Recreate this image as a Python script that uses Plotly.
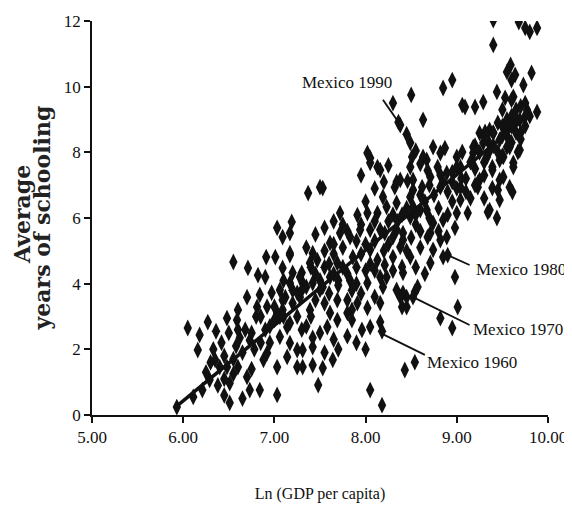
import plotly.graph_objects as go

# Ln(GDP per capita) and average years of schooling
ln_gdp = [
    5.93, 6.05, 6.18, 6.27, 6.16, 6.48, 6.59, 6.55, 6.71, 6.91, 7.17, 6.82, 6.90, 6.70, 6.81, 6.84,
    6.97, 7.12, 6.62, 6.73, 6.35, 6.40, 6.29, 6.51, 6.48, 6.60, 6.70, 6.51, 6.84, 7.03, 6.73, 6.21,
    6.11, 6.92, 7.03, 6.88, 7.06, 7.14, 7.03, 7.25, 7.25, 7.17, 7.20, 7.01, 7.09, 6.25, 6.33, 6.42,
    6.45, 6.55, 6.58, 6.38, 6.45, 6.55, 6.65, 6.68, 6.78, 6.75, 6.90, 6.95, 7.00, 6.36, 6.80, 6.60,
    6.92, 6.65,
    7.37, 7.50, 7.53, 7.03, 7.19, 7.17, 7.09, 7.17, 7.42, 7.39, 7.30, 7.31, 8.05, 8.16, 8.19, 8.32,
    8.34, 8.52, 7.72, 7.91, 8.02, 8.13, 7.61, 7.72, 7.83, 7.94, 8.05, 8.21, 8.34, 8.41, 8.49, 7.47,
    7.69, 7.86, 8.05, 8.13, 8.30, 8.40, 8.16, 8.19, 8.02, 7.83, 7.61, 7.06, 7.28, 7.50, 7.69, 7.91,
    8.16, 8.41, 8.40, 7.39, 7.09, 7.61, 7.80, 8.05, 8.18, 7.48, 7.31, 7.64, 7.53, 7.42, 7.42, 7.42,
    7.58, 7.69, 7.85, 7.96, 8.05, 8.16, 8.02, 7.85, 7.80, 7.53, 7.42, 7.28, 7.25, 7.09, 7.06, 7.17,
    7.17, 7.31, 7.14, 8.41, 8.34, 8.45, 8.54, 8.43, 8.54, 8.23, 7.45, 7.55, 7.65, 7.75, 7.35, 7.55,
    7.65, 7.75, 7.90, 7.95, 7.45, 7.55, 7.65, 7.75, 7.90, 7.35, 7.45, 7.60, 7.70, 7.95, 8.10, 7.25,
    7.35, 7.50, 7.65, 7.80, 7.90, 8.00, 7.55, 7.70, 8.18, 8.00, 8.10, 7.95, 8.20, 8.25, 8.10, 8.25,
    8.40, 8.55, 8.60, 8.55, 8.65, 8.60, 8.70, 8.90, 9.10, 9.20, 9.30, 9.00, 8.80, 8.95, 9.15, 9.30,
    9.50, 9.60, 9.70,
    8.51, 8.67, 8.82, 9.00, 9.18, 9.33, 9.47, 9.62, 8.34, 8.46, 8.62, 8.82, 8.95, 9.23, 9.39, 9.51,
    9.39, 9.61, 9.47, 9.34, 9.44, 9.12, 9.04, 8.49, 8.60, 8.74, 8.85, 8.98, 8.68, 8.82, 8.74, 8.41,
    8.38, 8.49, 8.71, 8.85, 8.98, 8.57, 8.45, 8.38, 9.01, 8.95, 8.82, 8.23, 8.52, 8.67, 9.00, 9.36,
    8.16, 8.30, 8.71, 8.89, 8.21, 8.52, 8.90, 8.36,
    9.40, 9.40, 9.68, 9.75, 9.88, 9.80, 9.59, 9.82, 9.73, 9.64, 9.55, 9.60, 8.50, 8.95, 8.85, 8.63,
    9.06, 9.09, 9.20, 9.29, 9.44, 9.53, 9.62, 9.77, 9.88, 9.69, 9.36, 9.25, 9.55, 9.67, 9.23, 9.45,
    8.74, 8.87, 9.06, 8.38, 8.49, 8.63, 8.52, 9.00, 9.30, 9.40, 9.50, 9.55, 9.60, 9.45, 9.35, 9.20,
    9.65, 9.70, 9.75, 9.50, 9.60, 9.65, 9.55, 9.70, 9.80, 8.30, 9.18, 9.29, 9.31, 9.40, 9.51, 9.62,
    9.47, 9.58, 9.69, 9.51, 9.39, 9.62, 9.25, 9.47, 9.58, 8.02, 8.05, 8.13, 8.49, 8.38, 8.79, 8.89,
    9.04, 8.71, 8.82, 9.04,
    6.30, 6.45, 6.50, 6.60, 6.75, 6.85, 6.85, 6.95, 7.00, 7.10, 7.10, 7.20, 7.20, 7.30, 7.30, 7.40,
    7.40, 7.50, 7.55, 7.60, 7.65, 7.70, 7.80, 7.80, 7.85, 7.90, 7.95, 8.00, 8.00, 8.05, 8.10, 8.10,
    8.20, 8.25, 8.30, 8.30, 8.35, 8.45, 8.45, 8.50, 8.55, 8.60, 8.65, 8.70, 8.75, 8.80, 8.85, 8.90,
    8.95, 9.05, 9.10, 9.15, 9.20, 9.25, 9.30, 9.35, 9.40, 9.45, 9.50, 9.55, 9.60, 9.65, 9.75, 9.75,
    8.45, 8.55, 8.60, 8.68,
]
schooling = [
    0.24, 2.65, 2.44, 2.83, 1.98, 2.95, 2.89, 4.66, 4.48, 4.81, 4.87, 4.26, 4.20, 3.59, 3.29, 3.66,
    3.72, 3.59, 2.35, 2.28, 1.68, 1.46, 1.07, 0.97, 1.46, 1.46, 1.16, 0.37, 0.76, 0.61, 0.76, 0.76,
    0.55, 1.89, 1.46, 1.68, 2.38, 2.68, 3.11, 1.98, 1.46, 4.02, 4.33, 4.81, 4.48, 1.30, 2.00, 2.20,
    1.80, 1.70, 2.10, 0.90, 0.60, 1.25, 1.90, 2.60, 2.00, 1.40, 2.60, 2.20, 2.90, 2.55, 3.00, 3.20,
    3.30, 0.50,
    6.76, 6.94, 6.91, 5.70, 5.88, 5.54, 5.42, 4.93, 4.93, 4.63, 4.33, 4.02, 7.83, 7.46, 6.64, 6.94,
    6.46, 6.85, 6.15, 6.09, 6.15, 6.15, 5.24, 5.54, 5.42, 5.64, 5.64, 5.54, 5.64, 5.33, 6.03, 4.72,
    4.63, 4.81, 5.03, 4.72, 4.81, 4.51, 4.20, 3.90, 4.02, 4.10, 4.20, 3.81, 3.59, 3.81, 3.50, 3.41,
    3.41, 3.72, 3.29, 3.20, 3.20, 3.11, 3.11, 0.76, 0.30, 0.91, 1.46, 1.68, 1.43, 1.52, 2.07, 2.35,
    2.68, 2.89, 2.89, 2.59, 2.68, 2.83, 3.26, 3.20, 3.50, 3.90, 4.02, 4.20, 3.72, 3.50, 2.99, 2.80,
    2.19, 1.98, 1.77, 4.33, 3.81, 3.29, 3.75, 1.37, 1.61, 4.20, 5.50, 5.70, 5.90, 5.80, 5.10, 5.00,
    4.90, 5.10, 5.30, 4.90, 4.30, 4.50, 4.30, 4.50, 4.50, 3.90, 3.50, 3.70, 3.95, 3.70, 3.60, 3.00,
    2.70, 2.50, 2.30, 2.40, 2.20, 2.00, 1.90, 2.00, 2.55, 6.50, 6.90, 7.30, 7.10, 7.60, 5.90, 5.90,
    6.10, 5.80, 5.10, 4.50, 4.30, 6.70, 7.00, 6.80, 7.20, 7.50, 7.70, 6.90, 6.30, 6.50, 6.60, 6.60,
    7.90, 8.30, 8.40,
    7.86, 7.77, 7.98, 7.86, 7.98, 7.86, 7.77, 7.68, 7.10, 7.13, 6.94, 7.31, 7.10, 6.94, 7.46, 7.25,
    6.91, 6.79, 6.55, 6.18, 6.00, 6.15, 6.55, 6.64, 6.24, 5.85, 5.94, 5.70, 5.42, 5.33, 5.03, 5.54,
    5.12, 4.81, 4.63, 4.81, 4.20, 3.90, 3.59, 3.59, 3.29, 2.65, 2.95, 6.34, 6.34, 6.24, 6.15, 6.24,
    5.64, 5.42, 5.54, 5.42, 4.57, 3.59, 4.87, 8.92,
    12.03, 11.27, 11.97, 11.79, 11.79, 11.67, 10.66, 10.42, 10.05, 10.36, 10.45, 10.20, 9.75, 10.20, 9.96, 8.99,
    9.44, 9.38, 9.38, 9.53, 9.84, 9.66, 9.69, 9.29, 9.23, 8.99, 8.68, 8.59, 8.16, 8.01, 7.07, 6.85,
    8.16, 8.13, 8.01, 8.83, 8.29, 7.86, 7.16, 7.55, 8.50, 8.60, 8.80, 9.00, 9.10, 8.90, 8.30, 8.20,
    9.30, 9.40, 9.50, 9.30, 9.60, 9.00, 8.50, 8.60, 9.10, 9.50, 8.16, 8.29, 8.62, 8.59, 8.77, 8.89,
    8.38, 8.16, 8.07, 7.86, 7.55, 7.55, 7.16, 7.16, 6.94, 7.98, 7.68, 7.55, 7.55, 7.16, 7.55, 7.37,
    7.55, 7.25, 6.94, 6.94,
    1.60, 1.10, 2.50, 2.60, 2.50, 2.20, 3.00, 2.70, 3.30, 3.00, 4.10, 3.40, 3.80, 3.80, 2.60, 3.00,
    4.50, 4.10, 3.40, 4.60, 5.20, 4.10, 4.30, 5.60, 3.80, 4.00, 5.80, 4.40, 5.20, 4.60, 5.30, 4.40,
    5.00, 5.20, 6.10, 4.40, 5.90, 6.30, 5.00, 5.40, 6.10, 5.60, 6.50, 6.00, 6.70, 5.60, 7.10, 6.10,
    7.40, 7.20, 6.80, 7.70, 7.00, 8.00, 7.30, 8.00, 8.20, 8.00, 8.50, 8.70, 8.80, 8.60, 9.10, 8.80,
    8.55, 8.05, 7.65, 7.45,
]

# Fitted line end points
fit_x = [5.92, 9.82]
fit_y = [0.25, 9.20]

# Labels and leader lines
label_text = ["Mexico 1990", "Mexico 1980", "Mexico 1970", "Mexico 1960"]
label_x = [8.31, 9.22, 9.19, 8.68]
label_y = [10.14, 4.42, 2.59, 1.61]
label_anchor = ["right", "left", "left", "left"]
tail_x = [8.19, 9.14, 9.14, 8.65]
tail_y = [9.60, 4.57, 2.74, 1.83]
tip_x = [8.36, 8.90, 8.52, 8.16]
tip_y = [8.92, 4.87, 3.59, 2.50]

x_ticks = [5, 6, 7, 8, 9, 10]
y_ticks = [0, 2, 4, 6, 8, 10, 12]

SERIF = "Liberation Serif"

fig = go.Figure()
fig.add_trace(go.Scatter(
    x=ln_gdp, y=schooling, mode="markers",
    marker=dict(symbol="diamond-tall", size=12, color="#111111", line=dict(width=0)),
    showlegend=False, hoverinfo="x+y",
))
fig.add_trace(go.Scatter(
    x=fit_x, y=fit_y, mode="lines",
    line=dict(color="#111111", width=3.5), showlegend=False,
))

shapes = []
annotations = []
for t, lx, ly, anc, x0, y0, x1, y1 in zip(label_text, label_x, label_y, label_anchor,
                                          tail_x, tail_y, tip_x, tip_y):
    shapes.append(dict(type="line", xref="x", yref="y", x0=x0, y0=y0, x1=x1, y1=y1,
                       line=dict(color="#111111", width=1.8)))
    annotations.append(dict(x=lx, y=ly, xref="x", yref="y", text=t, showarrow=False,
                            xanchor=anc, yanchor="middle", xshift=-3 if anc == "left" else 0,
                            font=dict(family=SERIF, size=17, color="#111111")))

# Y axis title, two rotated lines
annotations.append(dict(x=-0.1535, y=0.5076, xref="paper", yref="paper", text="Average",
                        showarrow=False, textangle=-90, xanchor="center", yanchor="middle",
                        font=dict(family="DejaVu Serif", size=22, color="#222222", weight="bold")))
annotations.append(dict(x=-0.1096, y=0.4990, xref="paper", yref="paper", text="years of schooling",
                        showarrow=False, textangle=-90, xanchor="center", yanchor="middle",
                        font=dict(family="DejaVu Serif", size=22, color="#222222", weight="bold")))

# The page body adds an 8px offset, so the figure is 8px smaller and margins compensate
fig.update_layout(
    width=564, height=511,
    margin=dict(l=84, r=24, t=13, b=104, autoexpand=False),
    paper_bgcolor="white", plot_bgcolor="white",
    font=dict(family=SERIF, size=17, color="#111111"),
    shapes=shapes, annotations=annotations,
    xaxis=dict(
        range=[5, 10], tickvals=x_ticks, tickformat=".2f", automargin=False,
        showline=True, linecolor="#111111", linewidth=1.5,
        ticks="outside", ticklen=6, tickcolor="#111111", tickwidth=1.5,
        showgrid=False, zeroline=False,
        tickfont=dict(family=SERIF, size=17),
        title=dict(text="Ln (GDP per capita)", font=dict(family=SERIF, size=16), standoff=42),
    ),
    yaxis=dict(
        range=[0, 12], tickvals=y_ticks, automargin=False,
        showline=True, linecolor="#111111", linewidth=1.5,
        ticks="outside", ticklen=6, tickcolor="#111111", tickwidth=1.5,
        showgrid=False, zeroline=False,
        tickfont=dict(family=SERIF, size=17),
    ),
)

fig.write_html("out.html")
